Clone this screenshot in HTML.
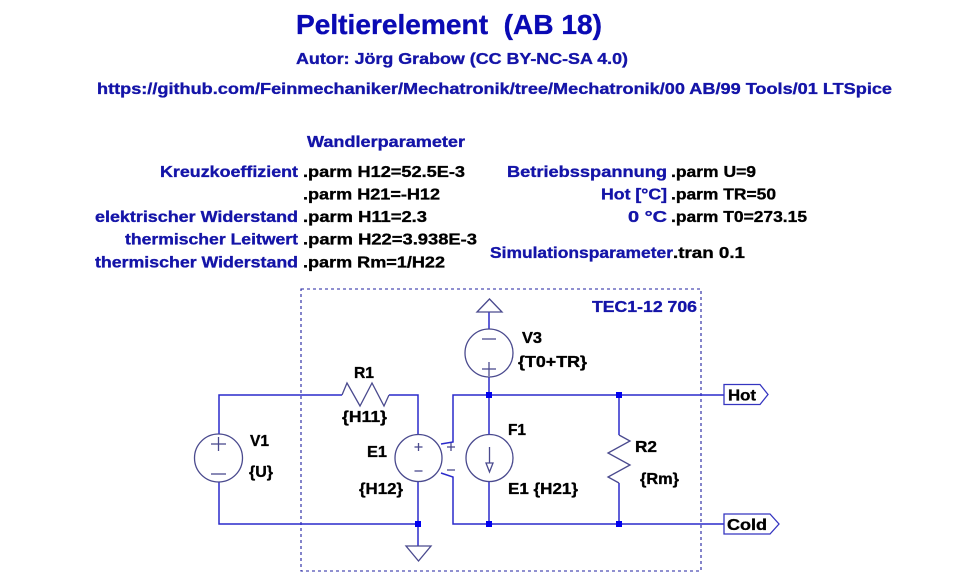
<!DOCTYPE html>
<html>
<head>
<meta charset="utf-8">
<style>
  html, body { margin:0; padding:0; background:#ffffff; }
  svg { display:block; }
  text { font-family: "Liberation Sans", Arial, sans-serif; font-weight: bold; stroke-width:0.35; }
  .b { fill:#1414a8; stroke:#1414a8; }
  .k { fill:#000000; stroke:#000000; }
  .w { stroke:#2a2acb; stroke-width:1.5; fill:none; }
  .s { stroke:#4a4a8e; stroke-width:1.3; fill:none; }
  .j { fill:#0000f0; }
</style>
</head>
<body>
<svg width="960" height="582" viewBox="0 0 960 582" xmlns="http://www.w3.org/2000/svg">
  <rect x="0" y="0" width="960" height="582" fill="#ffffff"/>

  <!-- Header -->
  <text class="b" x="296" y="34" font-size="28" textLength="306" lengthAdjust="spacingAndGlyphs" xml:space="preserve" style="fill:#0a0ab4;stroke:#0a0ab4">Peltierelement  (AB 18)</text>
  <text class="b" x="296" y="64" font-size="16" textLength="332" lengthAdjust="spacingAndGlyphs">Autor: Jörg Grabow (CC BY-NC-SA 4.0)</text>
  <text class="b" x="97" y="94" font-size="16" textLength="795" lengthAdjust="spacingAndGlyphs">https://github.com/Feinmechaniker/Mechatronik/tree/Mechatronik/00 AB/99 Tools/01 LTSpice</text>

  <!-- Parameters left -->
  <text class="b" x="307" y="147" font-size="16" textLength="158" lengthAdjust="spacingAndGlyphs">Wandlerparameter</text>
  <text class="b" x="160" y="177" font-size="16" textLength="138" lengthAdjust="spacingAndGlyphs">Kreuzkoeffizient</text>
  <text class="k" x="303" y="177" font-size="16" textLength="162" lengthAdjust="spacingAndGlyphs">.parm H12=52.5E-3</text>
  <text class="k" x="303" y="199.5" font-size="16" textLength="137" lengthAdjust="spacingAndGlyphs">.parm H21=-H12</text>
  <text class="b" x="95" y="222" font-size="16" textLength="203" lengthAdjust="spacingAndGlyphs">elektrischer Widerstand</text>
  <text class="k" x="303" y="222" font-size="16" textLength="124" lengthAdjust="spacingAndGlyphs">.parm H11=2.3</text>
  <text class="b" x="125" y="244.5" font-size="16" textLength="173" lengthAdjust="spacingAndGlyphs">thermischer Leitwert</text>
  <text class="k" x="303" y="244.5" font-size="16" textLength="174" lengthAdjust="spacingAndGlyphs">.parm H22=3.938E-3</text>
  <text class="b" x="95" y="267.5" font-size="16" textLength="203" lengthAdjust="spacingAndGlyphs">thermischer Widerstand</text>
  <text class="k" x="303" y="267.5" font-size="16" textLength="142" lengthAdjust="spacingAndGlyphs">.parm Rm=1/H22</text>

  <!-- Parameters right -->
  <text class="b" x="507" y="177" font-size="16" textLength="160" lengthAdjust="spacingAndGlyphs">Betriebsspannung</text>
  <text class="k" x="671" y="177" font-size="16" textLength="85" lengthAdjust="spacingAndGlyphs">.parm U=9</text>
  <text class="b" x="601" y="199.5" font-size="16" textLength="66" lengthAdjust="spacingAndGlyphs">Hot [°C]</text>
  <text class="k" x="671" y="199.5" font-size="16" textLength="105" lengthAdjust="spacingAndGlyphs">.parm TR=50</text>
  <text class="b" x="628" y="222" font-size="16" textLength="39" lengthAdjust="spacingAndGlyphs">0 °C</text>
  <text class="k" x="671" y="222" font-size="16" textLength="136" lengthAdjust="spacingAndGlyphs">.parm T0=273.15</text>
  <text class="b" x="490" y="258" font-size="16" textLength="183" lengthAdjust="spacingAndGlyphs">Simulationsparameter</text>
  <text class="k" x="673" y="258" font-size="16" textLength="72" lengthAdjust="spacingAndGlyphs">.tran 0.1</text>

  <!-- Dashed subcircuit box -->
  <rect x="301" y="289" width="400" height="282" fill="none" stroke="#2020a0" stroke-width="1.1" stroke-dasharray="3,3"/>
  <text class="b" x="592" y="312" font-size="16" textLength="105" lengthAdjust="spacingAndGlyphs">TEC1-12 706</text>

  <!-- Wires -->
  <polyline class="w" points="219,434 219,395 342,395"/>
  <polyline class="w" points="389,395 418,395 418,434"/>
  <polyline class="w" points="219,482 219,524 418,524"/>
  <line class="w" x1="418" y1="482" x2="418" y2="546"/>
  <polyline class="w" points="441,444 453,442 453,395 724,395"/>
  <polyline class="w" points="441,473 453,477 453,524 724,524"/>
  <line class="w" x1="489" y1="312" x2="489" y2="329"/>
  <line class="w" x1="489" y1="377" x2="489" y2="434"/>
  <line class="w" x1="489" y1="482" x2="489" y2="524"/>
  <line class="w" x1="619" y1="395" x2="619" y2="435"/>
  <line class="w" x1="619" y1="483" x2="619" y2="524"/>

  <!-- R1 zigzag -->
  <polyline class="s" points="342,395 347,383 360,406 372,383 384,406 389,395"/>
  <!-- R2 zigzag -->
  <polyline class="s" points="619,435 630,441 608,453 630,465 608,477 619,483"/>

  <!-- Ground E1 -->
  <polygon class="s" points="406,546 431,546 418.5,561"/>
  <!-- V3 top symbol -->
  <polygon class="s" points="477,312 502,312 489.5,299"/>

  <!-- V1 -->
  <circle class="s" cx="218.5" cy="458" r="24"/>
  <line class="s" x1="211" y1="444" x2="226" y2="444"/>
  <line class="s" x1="218.5" y1="437" x2="218.5" y2="451"/>
  <line class="s" x1="211" y1="474" x2="226" y2="474"/>

  <!-- E1 -->
  <circle class="s" cx="418.5" cy="458" r="23.5"/>
  <line class="s" x1="414.5" y1="447" x2="422.5" y2="447"/>
  <line class="s" x1="418.5" y1="443" x2="418.5" y2="451"/>
  <line class="s" x1="414.5" y1="471" x2="422.5" y2="471"/>
  <line class="s" x1="447" y1="447" x2="455" y2="447"/>
  <line class="s" x1="451" y1="443" x2="451" y2="451"/>
  <line class="s" x1="447" y1="470" x2="455" y2="470"/>

  <!-- V3 -->
  <circle class="s" cx="489" cy="353" r="24"/>
  <line class="s" x1="482" y1="339" x2="496" y2="339"/>
  <line class="s" x1="482" y1="369" x2="496" y2="369"/>
  <line class="s" x1="489" y1="362" x2="489" y2="376"/>

  <!-- F1 -->
  <circle class="s" cx="489.5" cy="458" r="23.5"/>
  <line class="s" x1="489.5" y1="447" x2="489.5" y2="463"/>
  <polygon class="s" points="486,463 493,463 489.5,472"/>

  <!-- Junctions -->
  <rect class="j" x="486" y="392" width="6" height="6"/>
  <rect class="j" x="616" y="392" width="6" height="6"/>
  <rect class="j" x="415" y="521" width="6" height="6"/>
  <rect class="j" x="486" y="521" width="6" height="6"/>
  <rect class="j" x="616" y="521" width="6" height="6"/>

  <!-- Net labels -->
  <polygon points="724,384.5 760,384.5 768,394.5 760,404.5 724,404.5" fill="#ffffff" stroke="#3535c0" stroke-width="1.3"/>
  <text class="k" x="728" y="400.5" font-size="16" textLength="28" lengthAdjust="spacingAndGlyphs">Hot</text>
  <polygon points="724,514 770,514 779,524 770,534 724,534" fill="#ffffff" stroke="#3535c0" stroke-width="1.3"/>
  <text class="k" x="727" y="530" font-size="16" textLength="40" lengthAdjust="spacingAndGlyphs">Cold</text>

  <!-- Component labels -->
  <text class="k" x="250" y="446" font-size="16" textLength="19" lengthAdjust="spacingAndGlyphs">V1</text>
  <text class="k" x="249" y="477" font-size="16" textLength="24" lengthAdjust="spacingAndGlyphs">{U}</text>
  <text class="k" x="354" y="378" font-size="16" textLength="20" lengthAdjust="spacingAndGlyphs">R1</text>
  <text class="k" x="342" y="422" font-size="16" textLength="45" lengthAdjust="spacingAndGlyphs">{H11}</text>
  <text class="k" x="367" y="457" font-size="16" textLength="20" lengthAdjust="spacingAndGlyphs">E1</text>
  <text class="k" x="359" y="494" font-size="16" textLength="44" lengthAdjust="spacingAndGlyphs">{H12}</text>
  <text class="k" x="522" y="343" font-size="16" textLength="20" lengthAdjust="spacingAndGlyphs">V3</text>
  <text class="k" x="518" y="367" font-size="16" textLength="69" lengthAdjust="spacingAndGlyphs">{T0+TR}</text>
  <text class="k" x="508" y="435" font-size="16" textLength="18" lengthAdjust="spacingAndGlyphs">F1</text>
  <text class="k" x="508" y="494" font-size="16" textLength="70" lengthAdjust="spacingAndGlyphs" xml:space="preserve">E1 {H21}</text>
  <text class="k" x="635" y="452" font-size="16" textLength="22" lengthAdjust="spacingAndGlyphs">R2</text>
  <text class="k" x="640" y="484" font-size="16" textLength="39" lengthAdjust="spacingAndGlyphs">{Rm}</text>
</svg>
</body>
</html>
